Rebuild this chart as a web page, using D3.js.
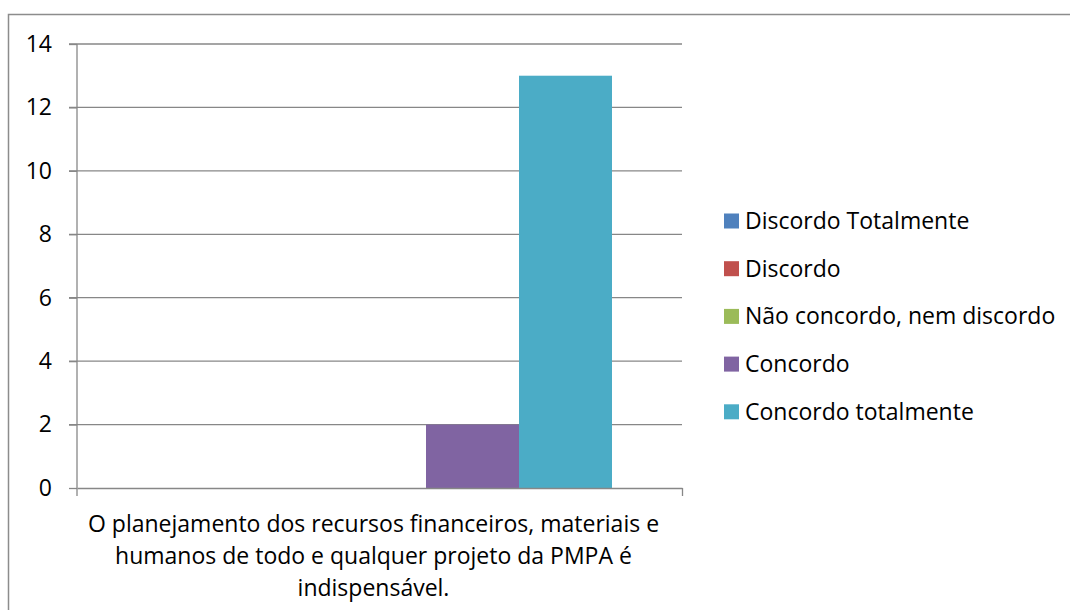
<!DOCTYPE html>
<html lang="pt">
<head>
<meta charset="UTF-8">
<title>Planejamento PMPA</title>
<script src="https://cdnjs.cloudflare.com/ajax/libs/d3/7.8.5/d3.min.js"></script>
<style>
	body { margin: 0; background: #fff; }
	svg { display: block; font-family: "Open Sans", "Noto Sans", sans-serif; }
	.grid line { stroke: #878787; stroke-width: 1.3; }
	.axis path, .axis line { stroke: #878787; stroke-width: 1.3; fill: none; }
	.axis text { fill: #000; font-size: 23px; font-family: "Open Sans", "Noto Sans", sans-serif; }
	.legend text { font-size: 23px; fill: #000; }
	.cat-label { font-size: 23px; fill: #000; }
</style>
</head>
<body>
<div id="chart"></div>
<script>
	const categories = ["O planejamento dos recursos financeiros, materiais e humanos de todo e qualquer projeto da PMPA é indispensável."];
	const categoryLines = ["O planejamento dos recursos financeiros, materiais e", "humanos de todo e qualquer projeto da PMPA é", "indispensável."];
	const seriesNames = ["Discordo Totalmente", "Discordo", "Não concordo, nem discordo", "Concordo", "Concordo totalmente"];
	const seriesValues = [0, 0, 0, 2, 13];
	const seriesColors = ["#4F81BD", "#C0504D", "#9BBB59", "#8064A2", "#4BACC6"];
	const yTicks = [0, 2, 4, 6, 8, 10, 12, 14];

	const W = 1070, H = 610;
	const margin = { top: 44, left: 77, right: 388, bottom: 122 };
	const width = W - margin.left - margin.right;
	const height = H - margin.top - margin.bottom;

	const root = d3.select("#chart").append("svg")
		.attr("width", W)
		.attr("height", H);

	// chart area border (runs past the right and bottom edges)
	root.append("rect")
		.attr("x", 8.5).attr("y", 14.5)
		.attr("width", W + 20).attr("height", H + 20)
		.attr("fill", "none")
		.attr("stroke", "#8c8c8c")
		.attr("stroke-width", 1.5);

	const svg = root.append("g")
		.attr("transform", `translate(${margin.left},${margin.top})`);

	const y = d3.scaleLinear().domain([0, 14]).range([height, 0]);

	const x0 = d3.scaleBand().domain(categories).range([0, width]).paddingInner(0).paddingOuter(0);
	// Excel gap width ~150% -> bars take 465 of 605
	const x1 = d3.scaleBand().domain(seriesNames).range([70, x0.bandwidth() - 70]);

	svg.append("g")
		.attr("class", "grid")
		.selectAll("line")
		.data(yTicks.filter(d => d > 0))
		.enter().append("line")
		.attr("x1", -8).attr("x2", width)
		.attr("y1", d => y(d)).attr("y2", d => y(d));

	const g = svg.selectAll(".cat")
		.data(categories)
		.enter().append("g")
		.attr("transform", d => `translate(${x0(d)},0)`);

	g.selectAll("rect")
		.data(seriesNames.map((name, i) => ({ name, value: seriesValues[i], color: seriesColors[i] })))
		.enter().append("rect")
		.attr("x", d => x1(d.name))
		.attr("width", x1.bandwidth())
		.attr("y", d => y(d.value))
		.attr("height", d => height - y(d.value))
		.attr("fill", d => d.color);

	const yAxis = svg.append("g")
		.attr("class", "axis")
		.call(d3.axisLeft(y).tickValues(yTicks).tickSize(8).tickSizeOuter(0).tickPadding(17));
	yAxis.select(".domain").attr("d", `M0,${height + 8}V0`);

	const xAxis = svg.append("g")
		.attr("class", "axis")
		.attr("transform", `translate(0,${height})`)
		.call(d3.axisBottom(d3.scaleLinear().domain([0, 1]).range([0, width])).tickValues([1]).tickSize(8).tickSizeOuter(0).tickFormat(""));

	svg.append("text")
		.attr("class", "cat-label")
		.attr("text-anchor", "middle")
		.selectAll("tspan")
		.data(categoryLines)
		.enter().append("tspan")
		.attr("x", x0(categories[0]) + x0.bandwidth() / 2 - 6)
		.attr("y", (d, i) => height + 44 + i * 32)
		.text(d => d);

	const legend = root.append("g")
		.attr("class", "legend")
		.attr("transform", "translate(724,221)");

	const item = legend.selectAll("g")
		.data(seriesNames)
		.enter().append("g")
		.attr("transform", (d, i) => `translate(0,${i * 47.7})`);

	item.append("rect")
		.attr("x", 0).attr("y", -7.5)
		.attr("width", 15).attr("height", 15)
		.attr("fill", (d, i) => seriesColors[i]);

	item.append("text")
		.attr("x", 21)
		.attr("dy", "0.35em")
		.text(d => d);
</script>
</body>
</html>
